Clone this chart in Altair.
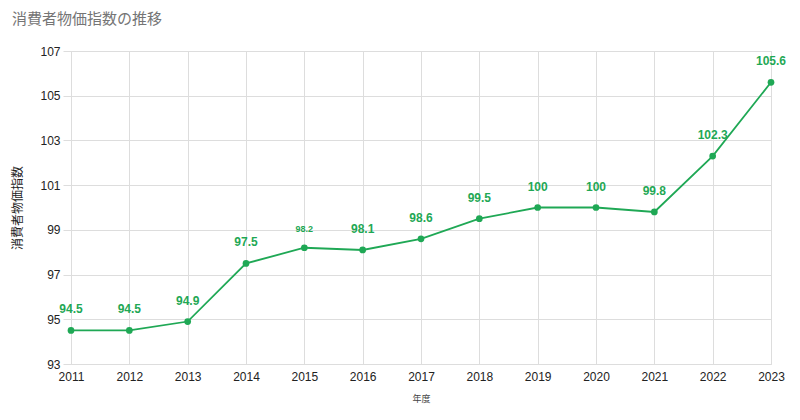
import altair as alt
import pandas as pd

years = [2011, 2012, 2013, 2014, 2015, 2016, 2017, 2018, 2019, 2020, 2021, 2022, 2023]
cpi = [94.5, 94.5, 94.9, 97.5, 98.2, 98.1, 98.6, 99.5, 100, 100, 99.8, 102.3, 105.6]
labels = ["94.5", "94.5", "94.9", "97.5", "98.2", "98.1", "98.6", "99.5", "100", "100", "99.8", "102.3", "105.6"]
y_ticks = [93, 95, 97, 99, 101, 103, 105, 107]

df = pd.DataFrame({"year": years, "cpi": cpi, "label": labels})

GREEN = "#1fa855"
FONT = "Liberation Sans, Arial, Noto Sans CJK JP"
JP = "Noto Sans CJK JP"

x_grid = [2011 + i * 0.5 for i in range(25)]

x = alt.X("year:Q", scale=alt.Scale(domain=[2011, 2023], nice=False, zero=False),
          axis=alt.Axis(values=x_grid, labelExpr="datum.value % 1 == 0 ? datum.value : ''",
                        title="年度", titleFont=JP, titleFontSize=9, titleFontWeight="normal",
                        titleColor="#444", titlePadding=12,
                        labelFont=FONT, labelFontSize=12, labelColor="#222", labelPadding=7,
                        labelOverlap=False, labelFlush=False, ticks=False, domain=False,
                        gridColor="#dddddd", gridWidth=1, format="d"))
y = alt.Y("cpi:Q", scale=alt.Scale(domain=[93, 107], nice=False, zero=False),
          axis=alt.Axis(values=y_ticks, title="消費者物価指数", titleFont=JP, titleFontSize=12,
                        titleFontWeight="normal", titleColor="#222", titlePadding=15,
                        labelFont=FONT, labelFontSize=12, labelColor="#222", labelPadding=3,
                        labelFlush=False,
                        ticks=True, tickSize=8, tickColor="#dddddd", domain=False,
                        gridColor="#dddddd"))

base = alt.Chart(df)
line = base.mark_line(color=GREEN, strokeWidth=1.8).encode(x=x, y=y)
pts = base.mark_point(color=GREEN, filled=True, opacity=1, size=45).encode(x="year:Q", y="cpi:Q")
txt = base.mark_text(color=GREEN, fontWeight="bold", font=FONT, dy=-14, baseline="bottom").encode(
    x="year:Q", y="cpi:Q", text="label:N",
    size=alt.condition("datum.year == 2015", alt.value(9), alt.value(12)))

chart = alt.layer(line, pts, txt).properties(
    width=700, height=313,
    title=alt.TitleParams("消費者物価指数の推移", anchor="start", font=JP, fontSize=15,
                          fontWeight="normal", color="#757575", offset=18),
    autosize=alt.AutoSizeParams(type="none"),
    padding={"left": 71, "top": 51, "right": 29, "bottom": 56},
).configure_view(stroke=None).configure(background="white")

chart.save("out.html", embed_options={"renderer": "svg", "actions": False})
